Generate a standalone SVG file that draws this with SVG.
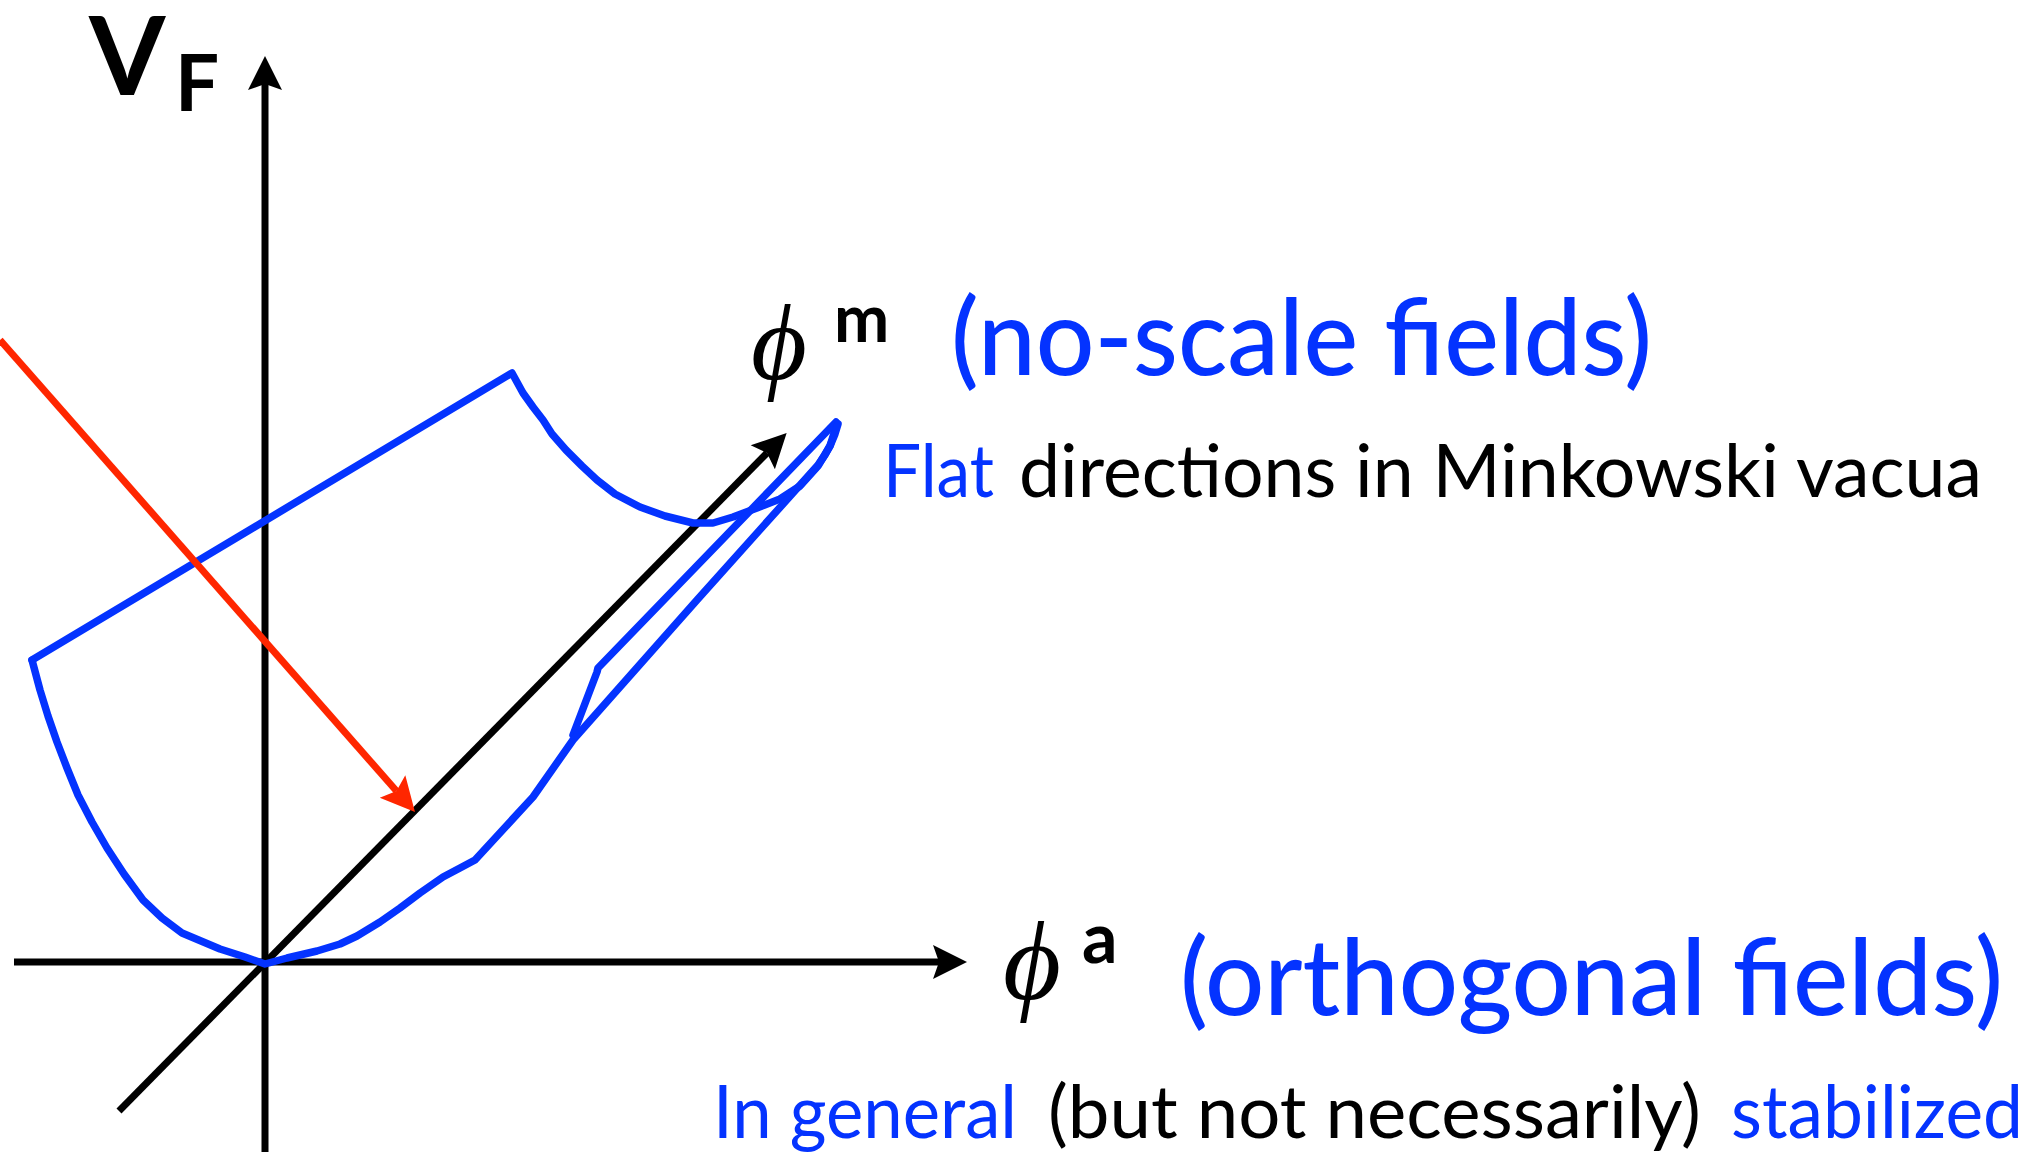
<svg xmlns="http://www.w3.org/2000/svg" width="2036" height="1152" viewBox="0 0 2036 1152">
<style>
  .axis { stroke:#000; stroke-width:7; fill:none; }
  .curve { stroke:#0433FF; stroke-width:7.5; fill:none; stroke-linejoin:round; stroke-linecap:round; }
  .red { stroke:#FF2600; stroke-width:7; fill:none; }
  .sans { font-family:Lato, "Open Sans", "Liberation Sans", sans-serif; }
  .phi { font-family:"Liberation Serif", "DejaVu Serif", serif; font-style:italic; fill:#000; }
  .blue { fill:#0433FF; }
  .black { fill:#000; }
  .bold { font-weight:700; }
  .med { font-weight:500; }
</style>
<defs>
  <marker id="ah" markerUnits="userSpaceOnUse" markerWidth="40" markerHeight="40" viewBox="-2 -20 40 40" refX="6" refY="0" orient="auto">
    <path d="M0,-17 L34,0 L0,17 L6,0 Z" fill="#000"/>
  </marker>
  <marker id="ahr" markerUnits="userSpaceOnUse" markerWidth="40" markerHeight="40" viewBox="-2 -20 40 40" refX="6" refY="0" orient="auto">
    <path d="M0,-17 L34,0 L0,17 L6,0 Z" fill="#FF2600"/>
  </marker>
</defs>
<rect width="2036" height="1152" fill="#fff"/>

<g id="connectors">
  <path id="axis-v" class="axis" d="M265,1152 L265,84" marker-end="url(#ah)"/>
  <path id="axis-a" class="axis" d="M14,962 L939,962" marker-end="url(#ah)"/>
  <path id="axis-m" class="axis" d="M119,1111 L767,453" marker-end="url(#ah)"/>
</g>

<g id="potential">
  <path class="curve" d="M32,660 L512,373 L523,393 L533,407 L543,420 L552,434 L566,450 L582,466 L597,480 L615,494 L640,507 L665,516 L693,523 L713,523 L733,517 L757,508 L780,499 L800,486 L818,466 L830,446 L837,424"/>
  <path class="curve" d="M836,422 L598,668 L597,672 L573,735"/>
  <path class="curve" d="M838,424 C834,440 828,452 818,465 L697,600 L573,740 L533,797 L475,860 L460,868 L443,877 L420,893 L400,908 L380,922 L357,936 L340,944 L317,951 L287,958 L265,964 L245,957 L220,949 L182,933 L162,918 L143,900 L124,874 L107,848 L92,822 L78,795 L67,768 L57,742 L48,716 L40,690 L32,660"/>
</g>

<g id="red-arrow">
  <path class="red" d="M0,340 L396.5,791" marker-end="url(#ahr)"/>
</g>

<g id="label-vf">
  <text class="sans bold black" x="89" y="95" font-size="110">V</text>
  <text class="sans bold black" x="175" y="111" font-size="78">F</text>
</g>

<g id="label-phim">
  <text class="phi" x="751" y="379" font-size="108">ϕ</text>
  <text class="sans bold black" x="834" y="342" font-size="66">m</text>
  <text class="sans med blue" x="951" y="375" font-size="107" textLength="701" lengthAdjust="spacingAndGlyphs">(no-scale fields)</text>
</g>

<g id="label-flat">
  <text class="sans blue" x="883" y="497" font-size="73" textLength="111" lengthAdjust="spacingAndGlyphs">Flat</text>
  <text class="sans black" x="1019" y="497" font-size="73" textLength="963" lengthAdjust="spacingAndGlyphs">directions in Minkowski vacua</text>
</g>

<g id="label-phia">
  <text class="phi" x="1003" y="999" font-size="112">ϕ</text>
  <text class="sans bold black" x="1082" y="963" font-size="70">a</text>
  <text class="sans med blue" x="1180" y="1015" font-size="107" textLength="823" lengthAdjust="spacingAndGlyphs">(orthogonal fields)</text>
</g>

<g id="label-general">
  <text class="sans blue" x="713" y="1138" font-size="74" textLength="304" lengthAdjust="spacingAndGlyphs">In general</text>
  <text class="sans black" x="1048" y="1138" font-size="74" textLength="653" lengthAdjust="spacingAndGlyphs">(but not necessarily)</text>
  <text class="sans blue" x="1731" y="1138" font-size="74" textLength="292" lengthAdjust="spacingAndGlyphs">stabilized</text>
</g>
</svg>
